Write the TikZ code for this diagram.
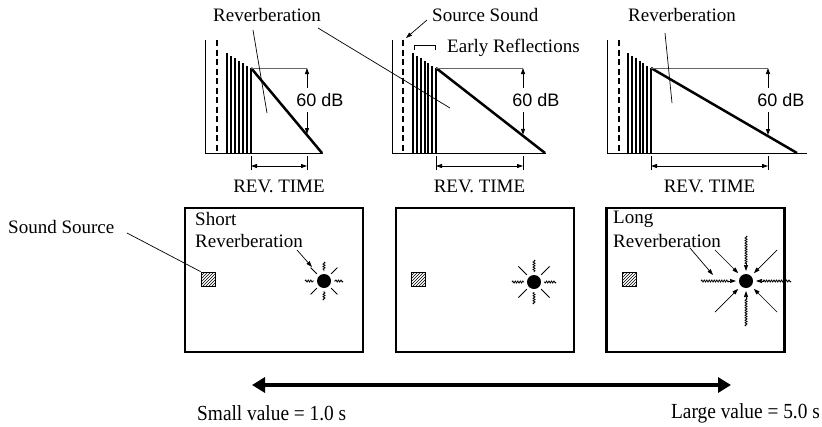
\documentclass[tikz,border=0pt]{standalone}
\usepackage{fontspec}
\setmainfont{Liberation Serif}
\newfontfamily\helv{Liberation Sans}
\newfontfamily\condserif[FakeStretch=0.9]{Liberation Serif}
\usetikzlibrary{arrows.meta,patterns,decorations.pathmorphing,calc}
\tikzset{
 axisln/.style={line width=1pt},
 dashln/.style={line width=2pt, dash pattern=on 6pt off 3.5pt},
 barln/.style={line width=2pt},
 decayln/.style={line width=2.5pt},
 refln/.style={line width=0.9pt, black!60},
 dimarrow/.style={line width=0.9pt, {Triangle[length=6pt,width=4pt]}-{Triangle[length=6pt,width=4pt]}},
 tickln/.style={line width=0.9pt},
 lbl/.style={font=\fontsize{19}{22}\selectfont, inner sep=0pt},
 biglbl/.style={font=\condserif\fontsize{21.5}{24}\selectfont, inner sep=0pt},
 dblbl/.style={font=\helv\fontsize{18}{21}\selectfont, fill=white, inner xsep=1pt, inner ysep=5pt},
 leader/.style={line width=0.7pt},
 ptr/.style={line width=0.7pt, -{Triangle[length=6pt,width=4pt]}},
 room/.style={draw, line width=2.5pt, minimum width=178pt, minimum height=144pt, inner sep=0pt},
 src/.style={draw, line width=0.8pt, pattern=north east lines, minimum size=14pt, inner sep=0pt},
 dot/.style={circle, fill=black, minimum size=14pt, inner sep=0pt},
 wray/.style={line width=0.8pt, decorate, decoration={snake, amplitude=1pt, segment length=2.5pt}},
 sray/.style={line width=0.8pt},
 bigarrow/.style={line width=4pt, {Triangle[length=13pt,width=15pt]}-{Triangle[length=13pt,width=15pt]}},
}
\newcommand\revgraph[8]{%
 \draw[axisln] (#2,40) -- (#2,153) -- (#7,153);
 \draw[dashln] (#3,40) -- (#3,153);
 \foreach \i in {0,...,6}{\draw[barln] ({#4+\i*(#5-#4)/6},153) -- ({#4+\i*(#5-#4)/6},{53+\i*15/6});}
 \draw[decayln] (#5,68) -- (#6,153);
 \draw[refln] (#5,68) -- (#8,68);
 \pgfmathsetmacro\yint{68+(#8-#5)/(#6-#5)*85-1}
 \coordinate (#1top) at (#8,68);
 \coordinate (#1bot) at (#8,\yint);
 \draw[dimarrow] (#1top) -- (#1bot);
 \node[dblbl] (#1db) at ({#8+13},100) {60 dB};
 \coordinate (#1ta) at (#5,156); \coordinate (#1tb) at (#5,170);
 \coordinate (#1tc) at (#8,156); \coordinate (#1td) at (#8,170);
 \draw[tickln] (#1ta) -- (#1tb);
 \draw[tickln] (#1tc) -- (#1td);
 \coordinate (#1ra) at (#5,166); \coordinate (#1rb) at (#8,166);
 \draw[dimarrow] (#1ra) -- (#1rb);
 \node[lbl] (#1rt) at ({(#5+#8)/2},186) {REV. TIME};
}
\newcommand\burst[3]{%
 \foreach \a in {0,90,180,270}{
   \draw[wray] ($(#1)+(\a:#3)$) -- ($(#1)+(\a:#2)$);
 }
 \foreach \a in {45,135,225,315}{
   \draw[sray] ($(#1)+(\a:#3)$) -- ($(#1)+(\a:#2)$);
 }
}
\begin{document}
\begin{tikzpicture}[x=1pt,y=-1pt]
\useasboundingbox (0,0) rectangle (822,426);
% graphs
\revgraph{ga}{205}{217}{227}{251}{322}{323}{307}
\revgraph{gb}{392}{403}{413}{436}{545}{546}{523}
\revgraph{gc}{607}{619}{628}{651}{797}{807}{768}
% graph labels
\node[lbl] (reva) at (267,15) {Reverberation};
\coordinate (la1) at (253,30); \coordinate (la2) at (267,113);
\coordinate (lb1) at (318,28); \coordinate (lb2) at (450,108);
\draw[leader] (la1) -- (la2);
\draw[leader] (lb1) -- (lb2);
\node[lbl] (revc) at (682,15) {Reverberation};
\coordinate (lc1) at (665,33); \coordinate (lc2) at (672,103);
\draw[leader] (lc1) -- (lc2);
\node[lbl, anchor=west] (ssnd) at (432,15) {Source Sound};
\coordinate (sa1) at (427,20); \coordinate (sa2) at (406,38);
\draw[ptr] (sa1) -- (sa2);
\node[lbl, anchor=west] (early) at (447,48) {Early Reflections};
\coordinate (br1) at (414,50); \coordinate (br2) at (435,50);
\draw[leader] (br1) -- ++(0,-5) -| (br2);
% rooms
\node[room] (rooma) at (274,280) {};
\node[room] (roomb) at (485,280) {};
\node[room] (roomc) at (695.5,280) {};
\node[src] (sra) at (208,279) {};
\node[src] (srb) at (418,279) {};
\node[src] (srcc) at (629,279) {};
\node[lbl, anchor=west] (sslbl) at (8,227) {Sound Source};
\coordinate (sl1) at (127,233);
\draw[leader] (sl1) -- (sra.north west);
\node[dot] (da) at (324,281) {};
\node[dot] (db) at (534,282) {};
\node[dot] (dc) at (746,281) {};
\burst{da}{10}{19}
\burst{db}{10}{22}
% long burst with arrows
\foreach \a in {0,90,180,270}{
  \draw[wray] ($(dc)+(\a:45)$) -- ($(dc)+(\a:17)$);
  \draw[ptr] ($(dc)+(\a:18)$) -- ($(dc)+(\a:10)$);
}
\foreach \a in {45,135,225,315}{
  \draw[ptr] ($(dc)+(\a:44)$) -- ($(dc)+(\a:11)$);
}
\node[lbl, anchor=west] (shorta) at (195,219) {Short};
\node[lbl, anchor=west] (shortb) at (195,241) {Reverberation};
\coordinate (pa1) at (297,250); \coordinate (pa2) at (312,267);
\draw[ptr] (pa1) -- (pa2);
\node[lbl, anchor=west] (longa) at (613,219) {Long};
\node[lbl, anchor=west] (longb) at (613,241) {Reverberation};
\coordinate (pc1) at (690,248); \coordinate (pc2) at (713,275);
\draw[ptr] (pc1) -- (pc2);
% scale
\coordinate (al) at (252,385); \coordinate (ar) at (731,385);
\draw[bigarrow] (al) -- (ar);
\node[biglbl, anchor=west] (small) at (197,413) {Small value = 1.0 s};
\node[biglbl, anchor=east] (large) at (820,413) {Large value = 5.0 s};
\end{tikzpicture}
\end{document}
